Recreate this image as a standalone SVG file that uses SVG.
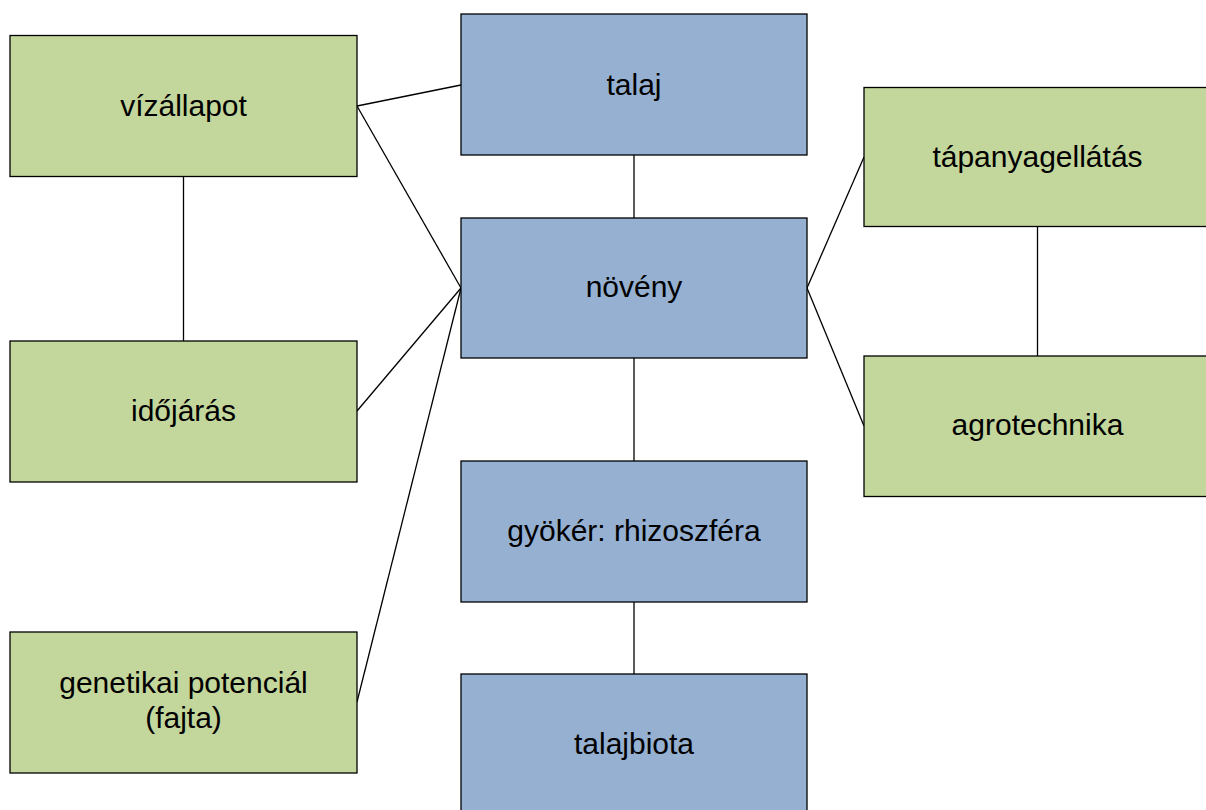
<svg xmlns="http://www.w3.org/2000/svg" width="1206" height="810" viewBox="0 0 1206 810">
  <style>
    .box { stroke: #000; stroke-width: 1.3; }
    .green { fill: #c3d69b; }
    .blue { fill: #95b0d0; }
    .label { font-family: "Liberation Sans", Arial, sans-serif; font-size: 30px; fill: #000; text-anchor: middle; }
    .conn line { stroke: #000; stroke-width: 1.3; fill: none; }
  </style>
  <rect width="1206" height="810" fill="#fff"/>

  <g id="connectors" class="conn">
    <line x1="357" y1="106" x2="461" y2="85"/>
    <line x1="357" y1="106" x2="461" y2="288"/>
    <line x1="183.5" y1="176" x2="183.5" y2="341"/>
    <line x1="357" y1="411" x2="461" y2="288"/>
    <line x1="357" y1="702" x2="461" y2="288"/>
    <line x1="634" y1="155" x2="634" y2="218"/>
    <line x1="634" y1="358" x2="634" y2="461"/>
    <line x1="634" y1="602" x2="634" y2="674"/>
    <line x1="807" y1="288" x2="864" y2="157"/>
    <line x1="807" y1="288" x2="864" y2="426"/>
    <line x1="1037.5" y1="227" x2="1037.5" y2="356"/>
  </g>

  <g id="vizallapot">
    <rect class="box green" x="10" y="35.5" width="347" height="141"/>
    <text class="label" x="183.5" y="116">vízállapot</text>
  </g>
  <g id="idojaras">
    <rect class="box green" x="10" y="341" width="347" height="141"/>
    <text class="label" x="183.5" y="421">időjárás</text>
  </g>
  <g id="genetikai">
    <rect class="box green" x="10" y="632" width="347" height="141"/>
    <text class="label" x="183.5" y="693">genetikai potenciál</text>
    <text class="label" x="183.5" y="728">(fajta)</text>
  </g>
  <g id="talaj">
    <rect class="box blue" x="461" y="14" width="346" height="141"/>
    <text class="label" x="634" y="95">talaj</text>
  </g>
  <g id="noveny">
    <rect class="box blue" x="461" y="218" width="346" height="140"/>
    <text class="label" x="634" y="297">növény</text>
  </g>
  <g id="gyoker">
    <rect class="box blue" x="461" y="461" width="346" height="141"/>
    <text class="label" x="634" y="541">gyökér: rhizoszféra</text>
  </g>
  <g id="talajbiota">
    <rect class="box blue" x="461" y="674" width="346" height="141"/>
    <text class="label" x="634" y="754">talajbiota</text>
  </g>
  <g id="tapanyagellatas">
    <rect class="box green" x="864" y="87.5" width="347" height="139"/>
    <text class="label" x="1037.5" y="167">tápanyagellátás</text>
  </g>
  <g id="agrotechnika">
    <rect class="box green" x="864" y="356" width="347" height="140.5"/>
    <text class="label" x="1037.5" y="435">agrotechnika</text>
  </g>
</svg>
